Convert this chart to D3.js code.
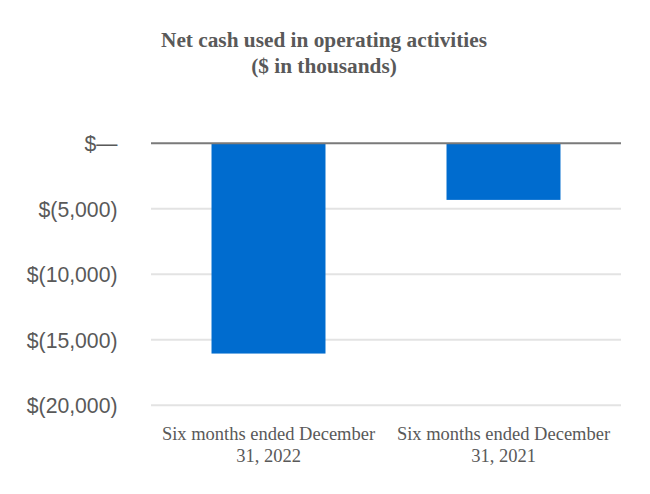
<!DOCTYPE html>
<html>
<head>
<meta charset="utf-8">
<script src="https://cdn.jsdelivr.net/npm/d3@7"></script>
<style>
html,body{margin:0;padding:0;background:#fff;}
</style>
</head>
<body>
<svg id="chart" width="650" height="494"></svg>
<script>
const categories = [["Six months ended December", "31, 2022"], ["Six months ended December", "31, 2021"]];
const values = [-16050, -4320];
const tickValues = [0, -5000, -10000, -15000, -20000];
const tickLabels = ["$\u2014", "$(5,000)", "$(10,000)", "$(15,000)", "$(20,000)"];
const titleLines = ["Net cash used in operating activities", "($ in thousands)"];

const svg = d3.select("#chart");
const margin = {left: 151, right: 29, top: 143, bottom: 89};
const W = 650, H = 494;

const x = d3.scaleBand().domain(d3.range(values.length))
  .range([margin.left, W - margin.right]).paddingInner(0.515).paddingOuter(0.2575);
const y = d3.scaleLinear().domain([0, -20000]).range([143.3, 405.3]);

// title
svg.append("g").selectAll("text").data(titleLines).join("text")
  .attr("x", 324).attr("y", (d, i) => 47 + i * 25.5)
  .attr("text-anchor", "middle")
  .attr("font-family", "'Liberation Serif', 'Times New Roman', serif")
  .attr("font-weight", "bold").attr("font-size", 21.3)
  .attr("fill", "#595959").text(d => d);

// gridlines
svg.append("g").selectAll("line").data(tickValues.filter(v => v !== 0)).join("line")
  .attr("x1", margin.left).attr("x2", W - margin.right)
  .attr("y1", d => y(d)).attr("y2", d => y(d))
  .attr("stroke", "#e3e3e3").attr("stroke-width", 2);

// y axis labels
const yAxis = d3.axisLeft(y).tickValues(tickValues).tickSize(0).tickPadding(0)
  .tickFormat((d, i) => tickLabels[i]);
const gy = svg.append("g").attr("transform", "translate(117.5,0)").call(yAxis);
gy.select(".domain").remove();
gy.selectAll("text")
  .attr("font-family", "'Liberation Sans', Arial, sans-serif")
  .attr("font-size", 21.2).attr("fill", "#595959").attr("dy", "0.35em");

// bars
svg.append("g").selectAll("rect").data(values).join("rect")
  .attr("x", (d, i) => x(i)).attr("width", x.bandwidth())
  .attr("y", d => y(Math.max(0, d))).attr("height", d => Math.abs(y(d) - y(0)))
  .attr("fill", "#006ccf");

// zero line
svg.append("line").attr("x1", margin.left).attr("x2", W - margin.right)
  .attr("y1", y(0)).attr("y2", y(0))
  .attr("stroke", "#7a7a7a").attr("stroke-width", 2);

// category labels
const cg = svg.append("g").selectAll("text").data(categories).join("text")
  .attr("text-anchor", "middle")
  .attr("font-family", "'Liberation Serif', 'Times New Roman', serif")
  .attr("font-size", 18.5).attr("fill", "#595959");
cg.each(function(d, i) {
  const t = d3.select(this);
  d.forEach((line, j) => {
    t.append("tspan").attr("x", x(i) + x.bandwidth() / 2).attr("y", 440 + j * 22).text(line);
  });
});
</script>
</body>
</html>
